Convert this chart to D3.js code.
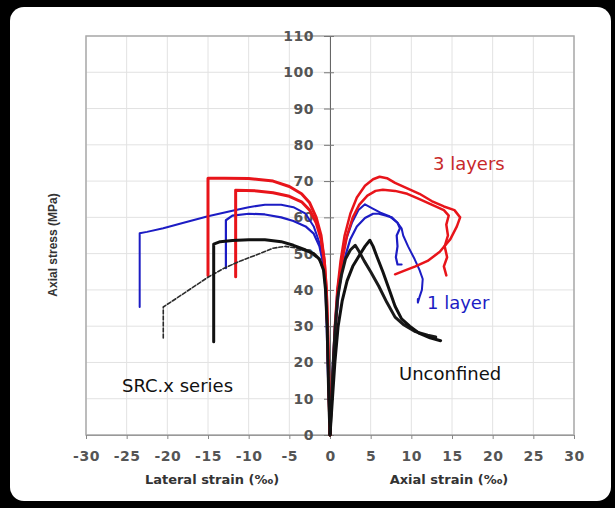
<!DOCTYPE html>
<html>
<head>
<meta charset="utf-8">
<script src="https://cdn.jsdelivr.net/npm/d3@7"></script>
<style>
  body { margin: 0; background: #000; }
  svg { display: block; }
</style>
</head>
<body>
<script>
// ticks
var xTicks = [-30, -25, -20, -15, -10, -5, 0, 5, 10, 15, 20, 25, 30];
var yTicks = [0, 10, 20, 30, 40, 50, 60, 70, 80, 90, 100, 110];

// each specimen: [strain (per mille), stress (MPa)]
var red1Lateral = [[0,0],[-0.1,10],[-0.2,20],[-0.3,30],[-0.45,40],[-0.7,48],[-1.1,55],[-1.7,60],[-2.5,64],[-3.5,66.5],[-5,68.5],[-7,70],[-10,70.7],[-13,70.8],[-15,70.8],[-15,60],[-15,50],[-15,44]];
var red1Axial = [[0,0],[0.2,10],[0.4,20],[0.6,30],[0.9,40],[1.3,48],[1.8,55],[2.5,61],[3.3,65.5],[4.3,68.7],[5.3,70.5],[6.1,71.2],[7,70.8],[8,69.5],[9.5,68],[11,66.5],[12.5,64.5],[14,63],[15.3,62],[16,60],[15.6,57.5],[14.8,54],[13.5,50.5],[12,48],[10.5,46.5],[9,45.2],[8,44.3]];

var red2Lateral = [[0,0],[-0.1,10],[-0.2,20],[-0.3,30],[-0.45,40],[-0.7,48],[-1.1,54],[-1.7,58.5],[-2.5,62],[-3.5,64.3],[-5,65.8],[-7,66.8],[-9,67.3],[-11.6,67.5],[-11.6,60],[-11.6,50],[-11.6,43.6]];
var red2Axial = [[0,0],[0.2,10],[0.45,20],[0.7,30],[1,40],[1.5,48],[2.1,55],[2.8,60],[3.6,63.5],[4.6,66],[5.6,67.3],[6.5,67.6],[8,67.3],[9.5,66.5],[11,65],[12.5,63.5],[14,62],[14.6,60.5],[14.3,58],[14.5,55],[14.1,52],[14.4,49],[14,46.5],[14.3,44]];

var blue1Lateral = [[0,0],[-0.1,10],[-0.25,20],[-0.35,30],[-0.5,40],[-0.8,47],[-1.3,53],[-2,57.5],[-3,61],[-4.5,62.8],[-6,63.5],[-8,63.5],[-10,62.8],[-12,61.8],[-15,60.3],[-18,58.5],[-20.5,57],[-22.5,56],[-23.4,55.6],[-23.4,50],[-23.4,42],[-23.4,35.3]];
var blue1Axial = [[0,0],[0.15,10],[0.35,20],[0.6,30],[0.9,40],[1.4,48],[2,54],[2.7,58.5],[3.5,62],[4.3,63.6],[5.2,62.5],[6.2,61.3],[7.3,60.3],[8.3,58.5],[8.8,57],[9,55],[9.6,52],[10.4,48.5],[11,45.5],[11.4,43],[11.3,40],[11,38],[10.8,36.5],[10.8,37.5]];

var blue2Lateral = [[0,0],[-0.15,10],[-0.3,20],[-0.4,30],[-0.55,40],[-0.8,47],[-1.3,52],[-2,55.5],[-3,57.5],[-4.5,59],[-6,60],[-8,60.8],[-10,61],[-12,60.5],[-12.8,59.2],[-12.8,53],[-12.8,46]];
var blue2Axial = [[0,0],[0.2,10],[0.4,20],[0.7,30],[1.1,40],[1.7,48],[2.5,54],[3.3,57.5],[4.3,59.8],[5.3,61],[6,61],[6.8,60.5],[7.6,60],[8.3,58.5],[8.6,57],[8.2,55],[8.3,52],[8.1,49],[8.3,47],[8.8,47]];

var black1Lateral = [[0,0],[-0.15,10],[-0.25,20],[-0.35,30],[-0.55,40],[-0.8,45.5],[-1.3,48.5],[-2,50],[-3,51],[-4.5,52.3],[-6,53.3],[-8,53.8],[-10,53.8],[-12,53.6],[-13.5,53.3],[-14.3,52.6],[-14.3,45],[-14.3,35],[-14.3,25.7]];
var black1Axial = [[0,0],[0.3,10],[0.6,20],[1.0,30],[1.5,37],[2.1,42.5],[2.8,46.5],[3.6,49.5],[4.3,52],[4.9,53.7],[5.3,52],[5.8,49],[6.5,45],[7.3,40],[8,35.5],[8.8,32],[9.8,30],[11,28],[12.3,26.8],[13.6,26]];

var black2Lateral = [[0,0],[-0.1,10],[-0.2,20],[-0.3,30],[-0.5,40],[-0.8,45.5],[-1.4,48.5],[-2.5,50.3],[-4,51.5],[-5.5,52],[-7,51.5],[-9,49.7],[-11,48],[-13,46],[-15,43.5],[-17,40.5],[-19,37.5],[-20.5,35.3],[-20.5,31],[-20.5,26.7]];
var black2Axial = [[0,0],[0.2,10],[0.4,20],[0.65,30],[0.95,38],[1.4,44],[1.9,48.5],[2.5,51],[3.1,52.3],[3.6,50.5],[4.2,48],[5,45],[6,41],[7,36.5],[8,32.5],[9,30.5],[10.5,28.5],[12,27.5],[13,27]];

var W = 615, H = 508;
var svg = d3.select("body").append("svg").attr("width", W).attr("height", H);

// white rounded panel on black
svg.append("rect").attr("x", 10).attr("y", 7).attr("width", 601).attr("height", 494)
  .attr("rx", 14).attr("fill", "#fff");

var x = d3.scaleLinear().domain([-30, 30]).range([86, 574]);
var y = d3.scaleLinear().domain([0, 110]).range([435, 36]);

// grid
svg.append("g").selectAll("line").data(xTicks).enter().append("line")
  .attr("x1", function(d){ return x(d); }).attr("x2", function(d){ return x(d); })
  .attr("y1", y(110)).attr("y2", y(0))
  .attr("stroke", "#e2e2e2").attr("stroke-width", 1);
svg.append("g").selectAll("line").data(yTicks).enter().append("line")
  .attr("x1", x(-30)).attr("x2", x(30))
  .attr("y1", function(d){ return y(d); }).attr("y2", function(d){ return y(d); })
  .attr("stroke", "#e2e2e2").attr("stroke-width", 1);

// plot border
svg.append("rect").attr("x", x(-30)).attr("y", y(110))
  .attr("width", x(30) - x(-30)).attr("height", y(0) - y(110))
  .attr("fill", "none").attr("stroke", "#aaa").attr("stroke-width", 1.5);

var plain = function(d){ return String(d); };

// x axis at bottom
var xAxis = svg.append("g").attr("transform", "translate(0," + y(0) + ")")
  .call(d3.axisBottom(x).tickValues(xTicks).tickFormat(plain).tickSize(4).tickPadding(12));
xAxis.select(".domain").attr("stroke", "#999");
xAxis.selectAll(".tick line").attr("stroke", "#888");
xAxis.selectAll("text").attr("font-family", "DejaVu Sans").attr("font-size", 14)
  .attr("font-weight", "bold").attr("fill", "#555").attr("letter-spacing", 0.5);

// y axis on strain = 0
var yAxis = svg.append("g").attr("transform", "translate(" + x(0) + ",0)")
  .call(d3.axisLeft(y).tickValues(yTicks).tickFormat(plain).tickSize(6).tickPadding(10));
yAxis.select(".domain").attr("stroke", "#666");
yAxis.selectAll(".tick line").attr("stroke", "#777").attr("x2", -6).attr("x1", 4);
yAxis.selectAll("text").attr("font-family", "DejaVu Sans").attr("font-size", 14)
  .attr("font-weight", "bold").attr("fill", "#555").attr("letter-spacing", 0.5);

// curves
var line = d3.line().x(function(d){ return x(d[0]); }).y(function(d){ return y(d[1]); });

function draw(data, color, width, dash) {
  var p = svg.append("path").datum(data).attr("d", line)
    .attr("fill", "none").attr("stroke", color).attr("stroke-width", width)
    .attr("stroke-linejoin", "round").attr("stroke-linecap", "round");
  if (dash) p.attr("stroke-dasharray", dash);
}

draw(blue1Lateral, "#1c1cc4", 2);
draw(blue1Axial, "#1c1cc4", 2);
draw(blue2Lateral, "#1c1cc4", 2.2);
draw(blue2Axial, "#1c1cc4", 2.2);
draw(red1Lateral, "#e8141a", 3);
draw(red1Axial, "#e8141a", 2.5);
draw(red2Lateral, "#e8141a", 3);
draw(red2Axial, "#e8141a", 2.5);
draw(black2Lateral, "#2b2b2b", 1.6, "4,2");
draw(black2Axial, "#1a1a1a", 3);
draw(black1Lateral, "#111", 3);
draw(black1Axial, "#111", 3);

// annotations
function label(txt, px, py, color) {
  svg.append("text").attr("x", px).attr("y", py).text(txt)
    .attr("font-family", "DejaVu Sans").attr("font-size", 18).attr("fill", color);
}
label("3 layers", 433, 170, "#c8282a");
label("1 layer", 427, 309, "#1c1cc4");
label("Unconfined", 399, 380, "#111");
label("SRC.x series", 122, 392, "#111");

// axis titles
svg.append("text").attr("x", 212).attr("y", 484).attr("text-anchor", "middle")
  .text("Lateral strain (‰)")
  .attr("font-family", "DejaVu Sans").attr("font-size", 13).attr("font-weight", "bold").attr("fill", "#333");
svg.append("text").attr("x", 449).attr("y", 484).attr("text-anchor", "middle")
  .text("Axial strain (‰)")
  .attr("font-family", "DejaVu Sans").attr("font-size", 13).attr("font-weight", "bold").attr("fill", "#333");
svg.append("text").attr("transform", "translate(53,245) rotate(-90)")
  .attr("text-anchor", "middle").attr("dy", "0.35em")
  .text("Axial stress (MPa)")
  .attr("font-family", "Liberation Sans").attr("font-size", 12).attr("font-weight", "bold").attr("fill", "#333");
</script>
</body>
</html>
